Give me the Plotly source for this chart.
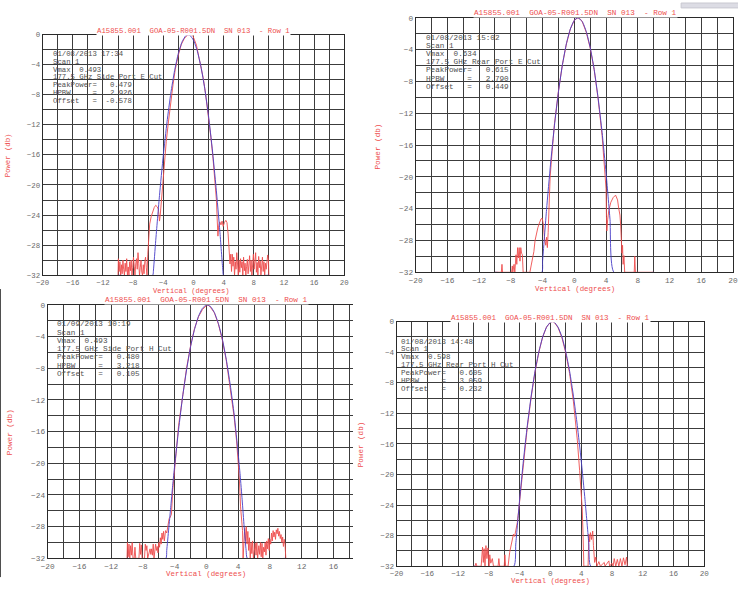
import plotly.graph_objects as go

W, H = 738, 589

# ---------------- data ----------------
title_text = "A15855.001  GOA-05-R001.5DN  SN 013  - Row 1"

p1_info = ["01/08/2013 17:34", "Scan 1", "Vmax  0.493", "177.5 GHz Side Port E Cut",
           "PeakPower=   0.479", "HPBW     =   2.926", "Offset   =  -0.578"]
p2_info = ["01/08/2013 15:02", "Scan 1", "Vmax  0.634", "177.5 GHz Rear Port E Cut",
           "PeakPower=   0.615", "HPBW     =   2.790", "Offset   =   0.449"]
p3_info = ["01/09/2013 10:19", "Scan 1", "Vmax  0.493", "177.5 GHz Side Port H Cut",
           "PeakPower=   0.480", "HPBW     =   3.218", "Offset   =   0.105"]
p4_info = ["01/08/2013 14:48", "Scan 1", "Vmax  0.598", "177.5 GHz Rear Port H Cut",
           "PeakPower=   0.605", "HPBW     =   3.059", "Offset   =   0.232"]

x_ticks = [-20, -16, -12, -8, -4, 0, 4, 8, 12, 16, 20]
y_ticks = [0, -4, -8, -12, -16, -20, -24, -28, -32]

p1_blue = [(-10, -32), (-5.4, -32), (-5.3, -31.3), (-5.0, -27.4), (-4.5, -21.4), (-4.0, -16.1),
           (-3.5, -11.6), (-3.0, -7.8), (-2.5, -4.8), (-2.0, -2.5), (-1.5, -0.95), (-1.0, -0.13),
           (-0.7, 0.0), (-0.5, -0.06), (0.0, -0.73), (0.5, -2.13), (1.0, -4.28), (1.5, -7.16),
           (2.0, -10.8), (2.5, -15.2), (3.0, -20.3), (3.5, -26.1), (3.9, -31.3), (4.0, -32), (10, -32)]
p1_red = [(-10.0, -32), (-9.95, -29.8), (-9.85, -31.5), (-9.75, -30.2), (-9.65, -32), (-9.55, -30.6),
          (-9.45, -31.8), (-9.35, -30.0), (-9.25, -31.2), (-9.15, -32), (-9.05, -30.4), (-8.95, -31.5),
          (-8.85, -29.8), (-8.75, -32), (-8.65, -30.9), (-8.55, -32), (-8.45, -30.2), (-8.35, -31.4),
          (-8.25, -30.0), (-8.15, -32), (-8.05, -31.0), (-7.95, -29.6), (-7.85, -30.8), (-7.75, -32),
          (-7.65, -30.5), (-7.55, -29.8), (-7.45, -31.2), (-7.35, -29.0), (-7.25, -30.4), (-7.15, -32),
          (-7.05, -31.0), (-6.95, -30.0), (-6.85, -31.6), (-6.75, -32), (-6.65, -30.6), (-6.55, -31.8),
          (-6.45, -30.2), (-6.35, -29.6), (-6.25, -31.0), (-6.15, -32), (-6.05, -29.2), (-5.95, -27.0),
          (-5.8, -25.2), (-5.6, -24.2), (-5.4, -23.5), (-5.2, -23.0), (-5.0, -22.7), (-4.8, -22.9),
          (-4.65, -23.2), (-4.5, -24.8), (-4.4, -24.0), (-4.25, -22.0), (-4.1, -20.0), (-3.9, -17.5),
          (-3.6, -14.2), (-3.3, -11.5), (-3.0, -8.8), (-2.7, -6.6), (-2.4, -4.6), (-2.0, -2.7),
          (-1.6, -1.3), (-1.2, -0.5), (-0.8, -0.1), (-0.4, 0.0), (-0.1, -0.1), (0.1, -0.6), (0.4, -1.4),
          (0.7, -2.9), (1.0, -4.2), (1.3, -5.8), (1.6, -7.8), (2.0, -10.9), (2.3, -13.5), (2.6, -16.5),
          (2.9, -20.0), (3.05, -22.0), (3.15, -24.5), (3.25, -26.8), (3.35, -25.4), (3.5, -24.9),
          (3.65, -25.3), (3.8, -24.8), (3.95, -25.5), (4.1, -25.0), (4.3, -24.7), (4.45, -25.0),
          (4.6, -26.5), (4.75, -28.4), (4.85, -30.5), (4.95, -29.2), (5.05, -31.5), (5.15, -29.2),
          (5.25, -30.8), (5.35, -29.6), (5.45, -32), (5.55, -30.2), (5.65, -31.2), (5.75, -29.0),
          (5.85, -30.5), (5.95, -32), (6.05, -30.0), (6.15, -31.6), (6.25, -29.8), (6.35, -31.0),
          (6.45, -30.2), (6.55, -32), (6.65, -29.6), (6.75, -31.4), (6.85, -30.4), (6.95, -32),
          (7.05, -30.8), (7.15, -29.9), (7.25, -31.8), (7.35, -30.2), (7.45, -29.4), (7.55, -31.5),
          (7.65, -30.0), (7.75, -32), (7.85, -30.6), (7.95, -29.2), (8.05, -31.2), (8.15, -30.0),
          (8.25, -29.0), (8.35, -31.6), (8.45, -30.3), (8.55, -32), (8.65, -29.5), (8.75, -31.0),
          (8.85, -30.1), (8.95, -32), (9.05, -30.5), (9.15, -29.6), (9.25, -31.5), (9.35, -30.2),
          (9.45, -32), (9.55, -30.4), (9.65, -31.2), (9.75, -29.6), (9.85, -29.3), (9.95, -30.0),
          (10.0, -32)]

p2_blue = [(-10, -32), (-4.1, -32), (-4.0, -30.6), (-3.5, -24.1), (-3.0, -18.4), (-2.5, -13.5),
           (-2.0, -9.3), (-1.5, -5.9), (-1.0, -3.25), (-0.5, -1.40), (0.0, -0.31), (0.45, 0.0),
           (1.0, -0.47), (1.5, -1.71), (2.0, -3.72), (2.5, -6.5), (3.0, -10.1), (3.5, -14.4),
           (4.0, -19.5), (4.5, -25.4), (5.0, -32), (10, -32)]
p2_red = [(-10.0, -32), (-9.2, -32), (-9.12, -31.0), (-9.05, -32), (-7.9, -32), (-7.82, -31.2),
          (-7.75, -32), (-7.6, -31.0), (-7.5, -32), (-7.35, -29.8), (-7.25, -31.0), (-7.15, -28.9),
          (-7.05, -30.2), (-6.95, -28.9), (-6.85, -30.6), (-6.75, -28.9), (-6.65, -29.6), (-6.55, -29.8),
          (-6.45, -32), (-5.6, -32), (-5.45, -31.2), (-5.3, -30.5), (-5.1, -29.4), (-4.95, -28.0),
          (-4.8, -27.2), (-4.6, -26.4), (-4.4, -25.8), (-4.2, -25.3), (-4.05, -25.2), (-3.9, -26.0),
          (-3.75, -27.8), (-3.6, -28.6), (-3.5, -27.6), (-3.4, -28.9), (-3.3, -27.0), (-3.2, -23.5),
          (-3.05, -20.0), (-2.8, -16.8), (-2.5, -13.3), (-2.0, -9.2), (-1.5, -5.9), (-1.0, -3.3),
          (-0.5, -1.4), (0.0, -0.3), (0.45, 0.0), (0.8, -0.2), (1.0, -0.5), (1.5, -1.8), (2.0, -3.8),
          (2.5, -6.5), (3.0, -10.2), (3.5, -14.8), (3.8, -18.5), (4.0, -21.5), (4.05, -25.0),
          (4.1, -26.8), (4.2, -25.4), (4.35, -24.2), (4.6, -23.2), (4.9, -22.6), (5.2, -22.3),
          (5.45, -22.9), (5.6, -24.0), (5.75, -24.8), (5.85, -26.2), (5.95, -28.0), (6.0, -29.6),
          (6.08, -28.6), (6.15, -31.0), (6.25, -29.9), (6.35, -32), (7.55, -32), (7.62, -30.0),
          (7.7, -32), (10.0, -32)]

p3_blue = [(-10, -32), (-5.1, -32), (-5.0, -31.0), (-4.75, -28.3), (-4.5, -25.6), (-4.25, -22.8),
           (-4.0, -20.3), (-3.5, -15.7), (-3.0, -11.6), (-2.5, -8.2), (-2.0, -5.3), (-1.5, -3.1),
           (-1.0, -1.45), (-0.5, -0.43), (0.0, -0.01), (0.5, -0.19), (1.0, -0.97), (1.5, -2.35),
           (2.0, -4.3), (2.5, -6.9), (3.0, -10.1), (3.5, -13.9), (4.0, -18.8), (4.25, -21.5),
           (4.5, -24.6), (4.75, -28.0), (5.0, -31.0), (5.15, -32), (10, -32)]
p3_red = [(-10.0, -32), (-9.95, -30.0), (-9.85, -31.8), (-9.75, -30.2), (-9.65, -32), (-9.55, -30.4),
          (-9.45, -31.6), (-9.35, -30.0), (-9.25, -32), (-9.1, -32), (-9.0, -30.6), (-8.9, -32),
          (-8.5, -32), (-8.4, -30.1), (-8.3, -31.5), (-8.2, -30.3), (-8.1, -32), (-7.8, -32),
          (-7.7, -30.2), (-7.6, -31.0), (-7.5, -30.4), (-7.4, -32), (-7.2, -31.2), (-7.1, -30.8),
          (-7.0, -31.5), (-6.9, -30.8), (-6.8, -31.6), (-6.7, -30.2), (-6.6, -32), (-6.5, -31.2),
          (-6.4, -30.2), (-6.3, -31.0), (-6.2, -30.5), (-6.1, -31.3), (-6.0, -30.0), (-5.9, -30.6),
          (-5.8, -29.4), (-5.7, -30.2), (-5.6, -28.8), (-5.5, -29.6), (-5.4, -28.6), (-5.3, -29.8),
          (-5.15, -28.5), (-5.0, -28.8), (-4.85, -28.0), (-4.7, -27.0), (-4.55, -26.8), (-4.4, -26.4),
          (-4.25, -23.5), (-4.1, -21.5), (-3.8, -18.5), (-3.5, -15.2), (-3.0, -11.3), (-2.5, -8.0),
          (-2.0, -5.2), (-1.5, -3.0), (-1.0, -1.5), (-0.5, -0.6), (0.0, -0.1), (0.2, 0.0), (0.5, -0.3),
          (1.0, -1.0), (1.5, -2.4), (2.0, -4.4), (2.5, -7.0), (3.0, -10.3), (3.5, -14.2), (3.8, -17.2),
          (4.0, -19.5), (4.15, -22.0), (4.3, -25.5), (4.45, -27.8), (4.55, -28.5), (4.62, -32),
          (4.72, -29.6), (4.82, -28.2), (4.93, -29.8), (5.02, -28.0), (5.12, -30.2), (5.22, -28.6),
          (5.32, -31.0), (5.42, -29.4), (5.52, -32), (5.62, -30.0), (5.72, -31.4), (5.82, -29.8),
          (5.92, -32), (6.05, -31.0), (6.15, -30.1), (6.25, -31.6), (6.35, -30.0), (6.45, -32),
          (6.6, -30.4), (6.7, -31.5), (6.8, -30.0), (6.9, -31.8), (7.0, -30.1), (7.1, -32),
          (7.2, -30.6), (7.3, -31.2), (7.4, -30.0), (7.5, -31.6), (7.6, -29.8), (7.7, -30.8),
          (7.8, -29.5), (7.9, -31.0), (8.0, -29.6), (8.1, -30.2), (8.2, -28.8), (8.3, -29.8),
          (8.4, -28.5), (8.5, -29.3), (8.6, -28.7), (8.7, -29.6), (8.8, -28.4), (8.9, -28.9),
          (9.0, -28.2), (9.1, -29.2), (9.2, -28.6), (9.3, -29.5), (9.4, -29.0), (9.5, -30.0),
          (9.6, -29.3), (9.7, -30.5), (9.8, -29.6), (9.9, -30.2), (10.0, -32)]

p4_blue = [(-10, -32), (-4.75, -32), (-4.5, -29.1), (-4.0, -23.3), (-3.5, -18.1), (-3.0, -13.6),
           (-2.5, -9.75), (-2.0, -6.5), (-1.5, -3.95), (-1.0, -2.0), (-0.5, -0.73), (0.0, -0.08),
           (0.25, 0.0), (0.5, -0.08), (1.0, -0.73), (1.5, -2.0), (2.0, -3.95), (2.5, -6.5),
           (3.0, -9.75), (3.5, -13.6), (4.0, -18.1), (4.5, -23.3), (5.0, -29.1), (5.25, -32), (10, -32)]
p4_red = [(-10.0, -32), (-9.8, -32), (-9.68, -31.6), (-9.55, -32), (-9.0, -32), (-8.92, -31.0),
          (-8.82, -29.5), (-8.72, -31.5), (-8.62, -29.7), (-8.5, -32), (-8.38, -29.3), (-8.25, -31.0),
          (-8.12, -29.6), (-7.98, -32), (-7.88, -30.5), (-7.75, -31.6), (-7.55, -31.0), (-7.4, -32),
          (-6.8, -32), (-6.7, -31.0), (-6.6, -32), (-6.0, -32), (-5.92, -30.5), (-5.82, -32),
          (-5.5, -32), (-5.3, -30.2), (-5.1, -29.0), (-4.95, -28.4), (-4.8, -27.8), (-4.65, -28.1),
          (-4.5, -27.3), (-4.3, -26.3), (-4.1, -24.5), (-3.8, -21.5), (-3.5, -18.0), (-3.0, -13.8),
          (-2.5, -9.9), (-2.0, -6.6), (-1.5, -4.0), (-1.0, -2.0), (-0.5, -0.7), (0.0, -0.1),
          (0.3, 0.0), (0.6, -0.2), (1.0, -0.8), (1.5, -2.1), (2.0, -4.1), (2.5, -6.8), (3.0, -10.5),
          (3.5, -15.5), (3.8, -19.5), (4.0, -22.5), (4.14, -24.5), (4.25, -28.0), (4.35, -32),
          (4.9, -32), (5.0, -27.8), (5.1, -28.8), (5.2, -27.6), (5.35, -28.5), (5.5, -27.4),
          (5.6, -29.3), (5.75, -31.5), (5.9, -30.8), (6.05, -32), (6.3, -31.4), (6.5, -32),
          (7.0, -31.5), (7.1, -32), (7.6, -31.3), (7.7, -32), (8.0, -31.6), (8.15, -32), (8.3, -31.0),
          (8.5, -32), (8.7, -31.1), (8.9, -32), (9.1, -31.0), (9.3, -32), (9.5, -30.9), (9.7, -31.8),
          (9.9, -30.8), (10.0, -32)]

# ---------------- styling / layout ----------------
RED = "rgb(238,78,78)"
BLUE = "rgb(72,62,200)"
GRID = "#3c3c3c"
MONO = "Liberation Mono, Courier New, monospace"

# the page draws the plotting paper ~722 px wide, starting ~9.6 px from the left
PAPER_X0, PAPER_W = 9.6, 722.0


def fx(p):
    return (p - PAPER_X0) / PAPER_W


def fdom(p):
    return min(1.0, max(0.0, fx(p)))


def fy(p):
    return 1 - p / H


panels = [
    dict(box=(45, 345, 32, 276), xr=[-20, 20], red=p1_red, blue=p1_blue, info=p1_info, s=1.0,
         info_xy=(55, 51.7, 7.93), title_xy=(195, 28), xlab=(193, 292), ylab=(11, 154), mirror_y=True),
    dict(box=(416, 733, 15, 273), xr=[-20, 20], red=p2_red, blue=p2_blue, info=p2_info, s=1.05,
         info_xy=(426, 35, 8.33), title_xy=(574.5, 10), xlab=(574, 290), ylab=(379, 145), mirror_y=True),
    dict(box=(50, 354, 306, 563), xr=[-20, 18.5], red=p3_red, blue=p3_blue, info=p3_info, s=1.05,
         info_xy=(59, 325.7, 8.4), title_xy=(208, 301), xlab=(207.5, 579), ylab=(12.7, 435), mirror_y=False),
    dict(box=(397, 703, 323, 571), xr=[-20, 20], red=p4_red, blue=p4_blue, info=p4_info, s=1.03,
         info_xy=(401.7, 343.3, 7.95), title_xy=(550.5, 319), xlab=(550, 586), ylab=None, mirror_y=True),
]

fig = go.Figure()
annotations = []
layout_axes = {}
nb = "\u00a0"

for i, p in enumerate(panels, start=1):
    sfx = "" if i == 1 else str(i)
    xa, ya = "x" + sfx, "y" + sfx
    s = p["s"]
    fig.add_trace(go.Scatter(x=[a for a, b in p["red"]], y=[b for a, b in p["red"]],
                             mode="lines", line=dict(color=RED, width=0.9),
                             xaxis=xa, yaxis=ya, showlegend=False, hoverinfo="skip"))
    fig.add_trace(go.Scatter(x=[a for a, b in p["blue"]], y=[b for a, b in p["blue"]],
                             mode="lines", line=dict(color=BLUE, width=1, shape="spline", smoothing=0.5),
                             opacity=0.9, xaxis=xa, yaxis=ya, showlegend=False, hoverinfo="skip"))
    l, r, t, b = p["box"]
    common = dict(showgrid=True, gridcolor=GRID, gridwidth=1, zeroline=False,
                  showline=True, linecolor="#2a2a2a", linewidth=1, ticks="",
                  tickfont=dict(family=MONO, size=7.4 * s, color="#6a6a6a"),
                  minor=dict(dtick=2, showgrid=True, gridcolor=GRID, gridwidth=1))
    layout_axes["xaxis" + sfx] = dict(common, domain=[fdom(l), fdom(r)], range=p["xr"],
                                      tickmode="array", tickvals=x_ticks, anchor=ya, mirror=True)
    layout_axes["yaxis" + sfx] = dict(common, domain=[fy(b), fy(t)], range=[-32, 0],
                                      tickmode="array", tickvals=y_ticks, anchor=xa,
                                      mirror=p["mirror_y"])
    tx, ty = p["title_xy"]
    annotations.append(dict(text=title_text.replace(" ", nb), x=fx(tx), y=fy(ty), xref="paper", yref="paper",
                            xanchor="center", yanchor="middle", showarrow=False, bgcolor="white",
                            font=dict(family=MONO, size=7.3 * s, color=RED), borderpad=0))
    ix, iy, dy = p["info_xy"]
    for k, line in enumerate(p["info"]):
        annotations.append(dict(text=line.replace(" ", nb), x=fx(ix), y=fy(iy + k * dy), xref="paper",
                                yref="paper", xanchor="left", yanchor="middle", showarrow=False,
                                borderpad=0, borderwidth=0,
                                font=dict(family=MONO, size=7.3 * s, color="#505050")))
    lx, ly = p["xlab"]
    annotations.append(dict(text="Vertical (degrees)", x=fx(lx), y=fy(ly), xref="paper", yref="paper",
                            xanchor="center", yanchor="middle", showarrow=False, borderpad=0,
                            font=dict(family=MONO, size=7.1 * s, color=RED)))
    if p["ylab"]:
        yx, yy = p["ylab"]
        annotations.append(dict(text="Power (db)", x=fx(yx), y=fy(yy), xref="paper", yref="paper",
                                xanchor="center", yanchor="middle", showarrow=False, textangle=-90,
                                font=dict(family=MONO, size=7.3 * s, color=RED)))

annotations.append(dict(text="Power (db)", x=fx(362), y=fy(447), xref="paper", yref="paper",
                        xanchor="center", yanchor="middle", showarrow=False, textangle=-90,
                        font=dict(family=MONO, size=7.6, color=RED)))

shapes = [
    dict(type="line", xref="paper", yref="paper", x0=fx(3), x1=fx(3), y0=fy(290), y1=fy(582),
         line=dict(color="#333", width=1)),
    dict(type="rect", xref="paper", yref="paper", x0=fx(680), x1=fx(738), y0=fy(5), y1=fy(0),
         line=dict(color="#c8c8d0", width=1), fillcolor="#dcdce4"),
]

fig.update_layout(width=W, height=H, margin=dict(l=0, r=0, t=0, b=0),
                  paper_bgcolor="white", plot_bgcolor="white",
                  annotations=annotations, shapes=shapes, **layout_axes)

fig.write_html("out.html")
